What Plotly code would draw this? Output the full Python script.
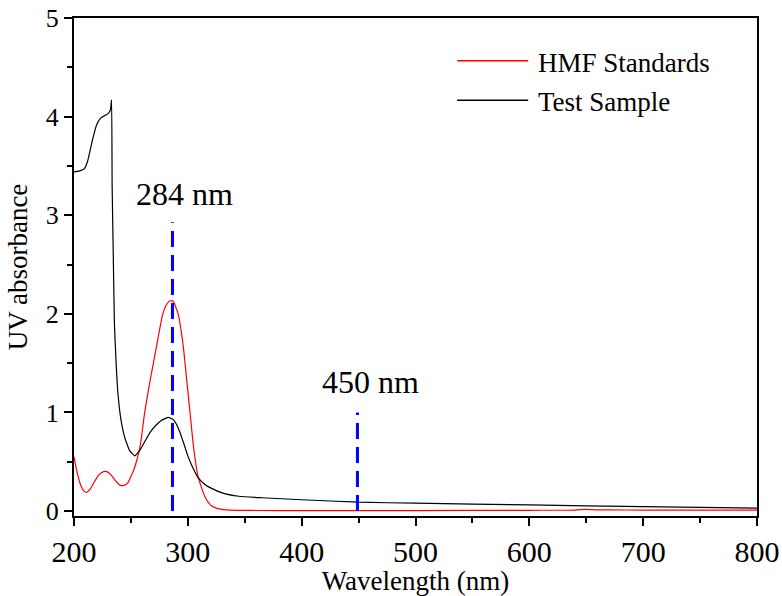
import plotly.graph_objects as go

# HMF standards (red)
hmf_wl = [200, 203, 206, 209, 211, 214, 218, 222, 226, 229, 233, 237, 241, 244, 247, 250,
          253.5, 258, 262, 267, 272.5, 278, 281, 284, 287, 289, 291.5, 296, 299, 302, 305,
          309, 315, 320, 325, 334, 360, 400, 500, 600, 640, 650, 660, 670, 700, 800]
hmf_abs = [0.55, 0.38, 0.26, 0.20, 0.19, 0.22, 0.30, 0.37, 0.40, 0.40, 0.36, 0.30, 0.26, 0.26, 0.28, 0.35,
           0.45, 0.65, 0.99, 1.33, 1.67, 2.00, 2.09, 2.13, 2.13, 2.08, 2.00, 1.67, 1.33, 0.99, 0.65,
           0.35, 0.145, 0.06, 0.03, 0.012, 0.006, 0.005, 0.005, 0.008, 0.01, 0.018, 0.012, 0.012, 0.01, 0.01]

# test sample (black)
test_wl = [200, 205, 209, 212, 215, 217, 220, 223, 227, 230, 232, 233, 233.5, 234.5, 235.5, 237,
           238.3, 240, 241.8, 244, 246.2, 249, 253.5, 258, 262, 267, 272, 277, 283, 287, 290,
           293, 296, 300, 304, 309, 315, 320, 330, 345, 365, 400, 450, 500, 600, 700, 800]
test_abs = [3.44, 3.45, 3.47, 3.55, 3.70, 3.80, 3.92, 3.98, 4.01, 4.03, 4.07, 4.17, 3.30, 2.60, 1.90, 1.50,
            1.23, 1.03, 0.89, 0.77, 0.69, 0.61, 0.56, 0.62, 0.70, 0.80, 0.87, 0.92, 0.95, 0.93, 0.88,
            0.80, 0.70, 0.56, 0.45, 0.34, 0.27, 0.235, 0.185, 0.15, 0.135, 0.115, 0.09, 0.08, 0.062, 0.045, 0.03]

# marker lines for the peaks
mark_wl = [286.5, 449]
mark_top = [2.93, 1.0]
mark_text = ["284 nm", "450 nm"]
label_x = [297.4, 460.5]
label_y = [3.22, 1.31]

font_name = "Liberation Serif"

fig = go.Figure()
fig.add_trace(go.Scatter(x=hmf_wl, y=hmf_abs, mode="lines", name="HMF Standards",
                         line=dict(color="#ff0000", width=1.2, shape="spline", smoothing=0.6)))
fig.add_trace(go.Scatter(x=test_wl, y=test_abs, mode="lines", name="Test Sample",
                         line=dict(color="#000000", width=1.2, shape="spline", smoothing=0.4)))

for wl, top in zip(mark_wl, mark_top):
    fig.add_trace(go.Scatter(x=[wl, wl], y=[0, top], mode="lines", showlegend=False,
                             line=dict(color="#0000ff", width=3, dash="16px,8px")))

for t, lx, ly in zip(mark_text, label_x, label_y):
    fig.add_annotation(x=lx, y=ly, text=t, showarrow=False,
                       font=dict(family=font_name, size=32, color="black"))

# legend drawn by hand so the sample lines are long like the original
leg_names = ["HMF Standards", "Test Sample"]
leg_colors = ["#ff0000", "#000000"]
leg_y = [0.914, 0.835]
for name, col, ly in zip(leg_names, leg_colors, leg_y):
    fig.add_shape(type="line", xref="paper", yref="paper", x0=0.561, x1=0.665, y0=ly, y1=ly,
                  line=dict(color=col, width=1.5))
    fig.add_annotation(xref="paper", yref="paper", x=0.676, y=ly - 0.004, text=name,
                       showarrow=False, xanchor="left", yanchor="middle",
                       font=dict(family=font_name, size=27, color="black"))

axis_style = dict(showline=True, linecolor="black", linewidth=2, mirror=True,
                  ticks="outside", ticklen=8, tickwidth=2, tickcolor="black",
                  showgrid=False, zeroline=False, automargin=False,
                  ticklabeloverflow="allow",
                  minor=dict(ticks="outside", ticklen=5, tickwidth=1.5, tickcolor="black"))

fig.update_xaxes(range=[200, 800], dtick=100, minor_dtick=50,
                 tickfont=dict(family=font_name, size=30, color="black"),
                 title=dict(text="Wavelength (nm)", standoff=4,
                            font=dict(family=font_name, size=27, color="black")),
                 **axis_style)
fig.update_yaxes(range=[-0.05, 5], dtick=1, minor_dtick=0.5,
                 tickfont=dict(family=font_name, size=26, color="black"),
                 title=dict(text="UV absorbance", standoff=10,
                            font=dict(family=font_name, size=27, color="black")),
                 **axis_style)

fig.update_layout(width=782, height=596, showlegend=False,
                  plot_bgcolor="white", paper_bgcolor="white",
                  margin=dict(l=74, r=25, t=18, b=80),
                  font=dict(family=font_name, color="black"))

# drop the default body margin so the figure sits at the page corner
fig.write_html("out.html", config={"displayModeBar": False},
               post_script="document.body.style.margin = '0';")
